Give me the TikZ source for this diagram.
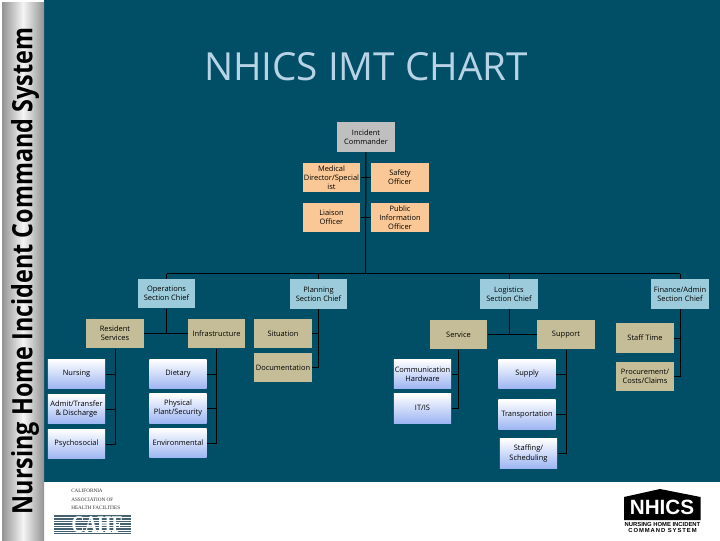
\documentclass[tikz,border=0pt]{standalone}
\usepackage{fontspec}
\setmainfont{Open Sans}
\newfontfamily\logofont{Liberation Sans}
\newfontfamily\cahffont{Liberation Serif}
\usetikzlibrary{positioning}
\definecolor{NHTeal}{HTML}{004F66}
\definecolor{NHTitle}{HTML}{B9D3E6}
\definecolor{NHGray}{HTML}{BFBFBF}
\definecolor{NHOrange}{HTML}{FAC896}
\definecolor{NHChief}{HTML}{9CCBDB}
\definecolor{NHTan}{HTML}{C4BD97}
\definecolor{NHLow}{HTML}{9DB5F2}
\definecolor{NHSlate}{HTML}{46616F}
\begin{document}
\begin{tikzpicture}[
  x=0.75pt,y=-0.75pt,
  box/.style={minimum width=43.1pt,minimum height=22.1pt,inner sep=0pt,align=center,font=\fontsize{5.6}{6.8}\selectfont,text=black},
  command/.style={box,fill=NHGray},
  staffbox/.style={box,fill=NHOrange},
  chief/.style={box,fill=NHChief},
  branch/.style={box,fill=NHTan},
  unit/.style={box,top color=white,bottom color=NHLow},
  wire/.style={draw=black,line width=0.75pt},
]
\useasboundingbox (0,0) rectangle (720,540);
\fill[white] (0,0) rectangle (720,540);
\fill[NHTeal] (44,0) rectangle (720,482);
\shade[left color=gray!85,right color=gray!85,middle color=white!92!gray] (2,2) rectangle (44,540);
\node[rotate=90,font=\bfseries\fontsize{21}{23}\selectfont,text=black] (side) at (25,271) {\scalebox{0.835}[1]{Nursing Home Incident Command System}};
\node[font=\fontsize{29}{32}\selectfont,text=NHTitle] (title) at (366,67) {NHICS IMT CHART};

\node[command] (ic) at (366,137) {Incident\\Commander};
\node[staffbox] (med) at (331.5,177.5) {Medical\\Director/Special\\ist};
\node[staffbox] (safety) at (400,177.5) {Safety\\Officer};
\node[staffbox] (liaison) at (331.5,217.5) {Liaison\\Officer};
\node[staffbox] (pio) at (400,217.5) {Public\\Information\\Officer};
\coordinate (top) at (365.5,273.5);

\node[chief] (ops) at (166.5,293.5) {Operations\\Section Chief};
\node[chief] (plan) at (318.5,294) {Planning\\Section Chief};
\node[chief] (log) at (509,294) {Logistics\\Section Chief};
\node[chief] (fin) at (680,294) {Finance/Admin\\Section Chief};

\node[branch] (res) at (115,333.5) {Resident\\Services};
\node[branch] (infra) at (216.5,333.5) {Infrastructure};
\node[branch] (sit) at (283,333.5) {Situation};
\node[branch,below=3pt of sit] (doc) {Documentation};
\node[branch] (serv) at (458.5,334.5) {Service};
\node[branch] (supp) at (566,334.5) {Support};
\node[branch] (time) at (645,338) {Staff Time};
\node[branch,below=6.4pt of time] (proc) {Procurement/\\Costs/Claims};

\node[unit] (nurs) at (76.5,374) {Nursing};
\node[unit,below=3.75pt of nurs] (admit) {Admit/Transfer\\\& Discharge};
\node[unit,below=3.75pt of admit] (psych) {Psychosocial};
\node[unit] (diet) at (178,374) {Dietary};
\node[unit,below=3.2pt of diet] (plant) {Physical\\Plant/Security};
\node[unit] (env) at (178,443) {Environmental};
\node[unit] (comm) at (422.5,374) {Communication\\Hardware};
\node[unit,below=3.2pt of comm] (it) {IT/IS};
\node[unit] (sup) at (527,374) {Supply};
\node[unit] (trans) at (527,414.5) {Transportation};
\node[unit] (stf) at (528.5,453.5) {Staffing/\\Scheduling};

\draw[wire] (ic) -- (top);
\draw[wire] (med.east) -- (safety.west);
\draw[wire] (liaison.east) -- (pio.west);
\draw[wire] (ops |- top) -- (fin |- top);
\draw[wire] (ops) -- (ops |- top);
\draw[wire] (plan) -- (plan |- top);
\draw[wire] (log) -- (log |- top);
\draw[wire] (fin) -- (fin |- top);

\draw[wire] (res) -- (infra);
\draw[wire] (ops) -- (ops |- res);
\draw[wire] (res) |- (nurs);
\draw[wire] (res) |- (admit);
\draw[wire] (res) |- (psych);
\draw[wire] (infra) |- (diet);
\draw[wire] (infra) |- (plant);
\draw[wire] (infra) |- (env);
\draw[wire] (plan) |- (sit);
\draw[wire] (plan) |- (doc);
\draw[wire] (serv) -- (supp);
\draw[wire] (log) -- (log |- serv);
\draw[wire] (serv) |- (comm);
\draw[wire] (serv) |- (it);
\draw[wire] (supp) |- (sup);
\draw[wire] (supp) |- (trans);
\draw[wire] (supp) |- (stf);
\draw[wire] (fin) |- (time);
\draw[wire] (fin) |- (proc);

% logos
\fill[NHSlate] (54,515) rectangle (131,534);
\foreach \y in {517,519.5,...,532} {\fill[white] (54,\y) rectangle (131,\y+0.5);}
\node[font=\cahffont\bfseries\fontsize{18}{18}\selectfont,text=white] (cahf) at (97,525) {\scalebox{0.75}[1]{CAHF}};
\node[anchor=west,inner sep=0pt,align=left,font=\cahffont\fontsize{3.9}{6.3}\selectfont,text=black!80] (assoc) at (71,499.5) {CALIFORNIA\\ASSOCIATION OF\\HEALTH FACILITIES};
\fill[black] (624,497) -- (660,489) -- (700.5,497) -- (700.5,520) -- (624,520) -- cycle;
\node[font=\logofont\bfseries\fontsize{15.5}{16}\selectfont,text=white] (nhics) at (662,507.5) {NHICS};
\node[inner sep=0pt,align=center,font=\logofont\bfseries\fontsize{4.4}{5.2}\selectfont,text=black] (nhname) at (662.5,527.5) {NURSING HOME INCIDENT\\{\addfontfeature{LetterSpace=16}COMMAND SYSTEM}};
\end{tikzpicture}
\end{document}
